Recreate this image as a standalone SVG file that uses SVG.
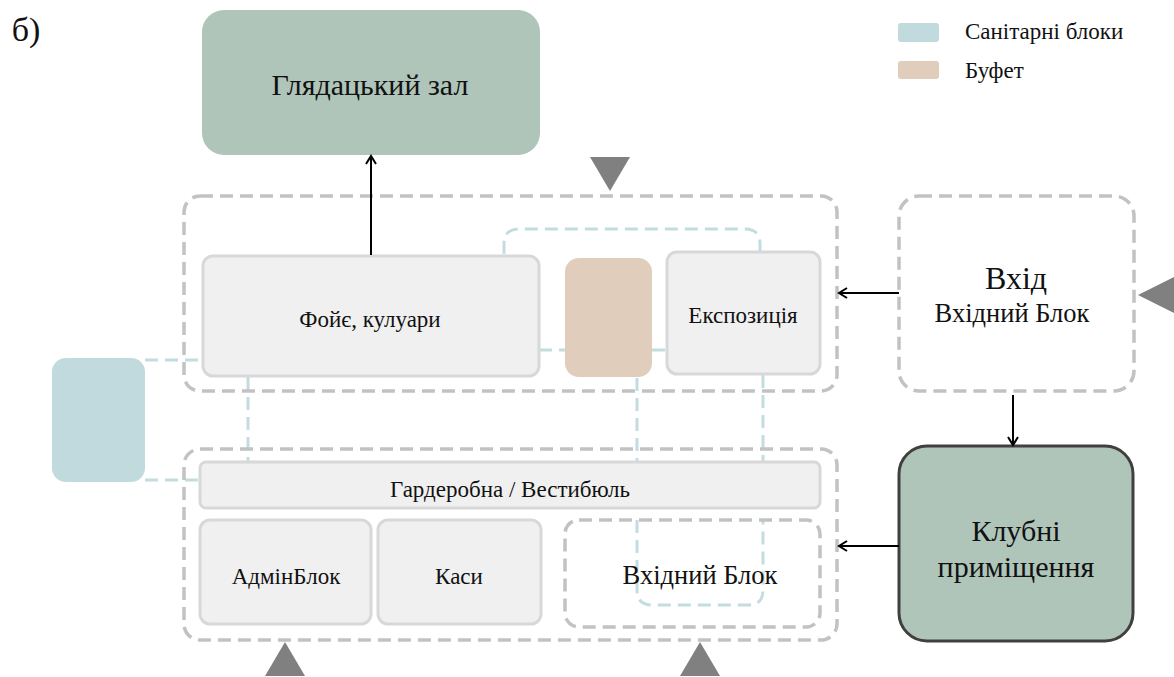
<svg xmlns="http://www.w3.org/2000/svg" width="1174" height="677" viewBox="0 0 1174 677" font-family="Liberation Serif, DejaVu Serif, serif">
  <style>
    text { font-family: 'Liberation Serif', 'DejaVu Serif', serif; fill: #111; text-anchor: middle; }
    .room { fill: #f0f0f0; stroke: #d8d8d8; stroke-width: 3; }
    .zone { fill: none; stroke: #c2c2c2; stroke-width: 3.5; stroke-dasharray: 13 7; }
    .sanlink { fill: none; stroke: #c3dcdf; stroke-width: 3; stroke-dasharray: 13 7; }
    .hall { fill: #afc5b9; }
    .flow { stroke: #000; stroke-width: 2; fill: none; marker-end: url(#open); }
    .tri { fill: #808080; }
    .t19 { font-size: 23px; }
    .t22 { font-size: 26.5px; }
    .t26 { font-size: 30px; }
  </style>
  <defs>
    <marker id="open" viewBox="0 0 12 12" refX="10" refY="6" markerWidth="12" markerHeight="12" markerUnits="userSpaceOnUse" orient="auto">
      <path d="M2,1 L10,6 L2,11" fill="none" stroke="#000" stroke-width="2"/>
    </marker>
  </defs>

  <!-- figure label -->
  <text x="26" y="41" font-size="34px">б)</text>

  <!-- legend -->
  <g id="legend">
    <rect x="898" y="23" width="41" height="19" rx="3" fill="#c1dadd"/>
    <text x="965" y="39" class="t19" style="text-anchor:start">Санітарні блоки</text>
    <rect x="898" y="61" width="41" height="18" rx="3" fill="#e0cdbb"/>
    <text x="965" y="78" class="t19" style="text-anchor:start">Буфет</text>
  </g>

  <!-- sanitary links (dashed teal) -->
  <g id="sanitary-links">
    <path class="sanlink" d="M504,254 V244 Q504,229 519,229 H745 Q760,229 760,244 V251"/>
    <path class="sanlink" d="M539,350 H565 M652,350 H667"/>
    <path class="sanlink" d="M145,360 H203 M145,480 H200"/>
    <path class="sanlink" d="M248,377 V462"/>
    <path class="sanlink" d="M637,378 V462 M763,375 V462"/>
    <path class="sanlink" d="M637,520 V590 Q637,605 652,605 H748 Q763,605 763,590 V520"/>
  </g>

  <!-- zones -->
  <g id="zone-upper">
    <rect class="zone" x="184" y="196" width="653" height="195" rx="16"/>
  </g>
  <g id="zone-lower">
    <rect class="zone" x="184" y="449" width="653" height="191" rx="16"/>
  </g>

  <g id="hall">
    <rect class="hall" x="202" y="10" width="338" height="145" rx="22"/>
    <text x="370" y="95" class="t26">Глядацький зал</text>
  </g>

  <g id="foyer">
    <rect class="room" x="203" y="256" width="336" height="120" rx="10"/>
    <text x="370" y="327" class="t19">Фойє, кулуари</text>
  </g>

  <g id="buffet">
    <rect x="565" y="258" width="87" height="119" rx="14" fill="#e0cdbb"/>
  </g>

  <g id="exposition">
    <rect class="room" x="667" y="252" width="153" height="122" rx="10"/>
    <text x="743" y="323" class="t19">Експозиція</text>
  </g>

  <g id="sanitary">
    <rect x="52" y="358" width="93" height="124" rx="14" fill="#c1dadd"/>
  </g>

  <g id="cloakroom">
    <rect class="room" x="200" y="462" width="620" height="46" rx="6"/>
    <text x="510" y="497" class="t19">Гардеробна / Вестибюль</text>
  </g>

  <g id="admin">
    <rect class="room" x="200" y="520" width="171" height="104" rx="10"/>
    <text x="286" y="584" class="t19">АдмінБлок</text>
  </g>

  <g id="tickets">
    <rect class="room" x="378" y="520" width="163" height="104" rx="10"/>
    <text x="459" y="584" class="t19">Каси</text>
  </g>

  <g id="entry-lower">
    <rect class="zone" x="565" y="520" width="255" height="107" rx="14"/>
    <text x="700" y="584" class="t22">Вхідний Блок</text>
  </g>

  <g id="entry">
    <rect class="zone" x="899" y="196" width="235" height="195" rx="20"/>
    <text x="1016" y="289" font-size="32px">Вхід</text>
    <text x="1012" y="322" class="t22">Вхідний Блок</text>
  </g>

  <g id="club">
    <rect class="hall" x="899" y="446" width="234" height="195" rx="28" stroke="#404040" stroke-width="3"/>
    <text x="1016" y="541" class="t26">Клубні</text>
    <text x="1016" y="577" class="t26">приміщення</text>
  </g>

  <!-- access markers -->
  <g id="access">
    <polygon class="tri" points="590,157 630,157 610,191"/>
    <polygon class="tri" points="1174,277 1174,313 1138,295"/>
    <polygon class="tri" points="265,676 305,676 285,642"/>
    <polygon class="tri" points="680,676 720,676 700,642"/>
  </g>

  <!-- flows -->
  <g id="connectors">
    <line class="flow" x1="371" y1="255" x2="371" y2="156"/>
    <line class="flow" x1="899" y1="293" x2="839" y2="293"/>
    <line class="flow" x1="1013" y1="395" x2="1013" y2="445"/>
    <line class="flow" x1="899" y1="546" x2="839" y2="546"/>
  </g>
</svg>
